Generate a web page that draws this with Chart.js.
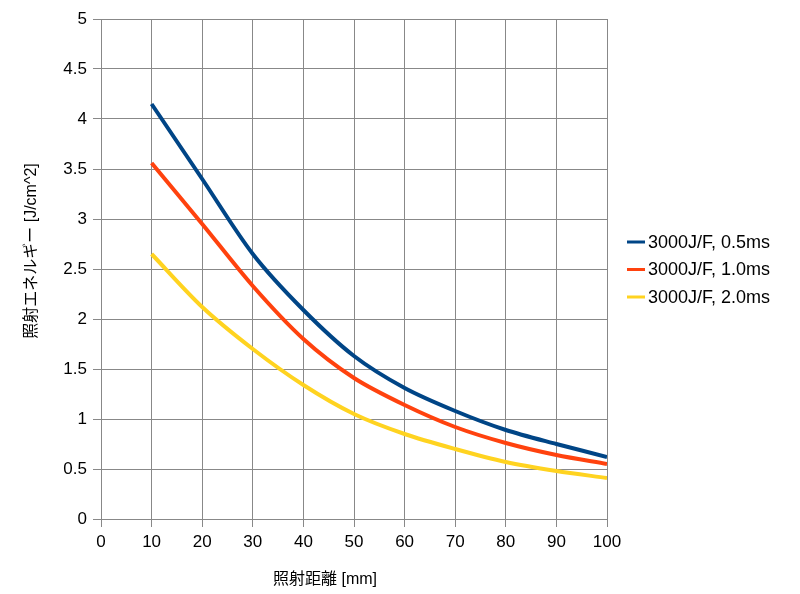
<!DOCTYPE html>
<html>
<head>
<meta charset="utf-8">
<script src="https://cdn.jsdelivr.net/npm/chart.js@4/dist/chart.umd.min.js"></script>
<style>
  html, body { margin: 0; padding: 0; background: #fff; }
  #wrap { width: 800px; height: 594px; }
</style>
</head>
<body>
<div id="wrap"><canvas id="graf"></canvas></div>
<script>
// ---------- dados ----------
const distancias = [10, 20, 30, 40, 50, 60, 70, 80, 90, 100];
const serie05 = [4.15, 3.40, 2.65, 2.09, 1.63, 1.31, 1.08, 0.89, 0.75, 0.62];
const serie10 = [3.56, 2.95, 2.33, 1.80, 1.41, 1.14, 0.92, 0.76, 0.64, 0.55];
const serie20 = [2.65, 2.12, 1.70, 1.34, 1.05, 0.85, 0.70, 0.57, 0.48, 0.41];
const nomes = ["3000J/F, 0.5ms", "3000J/F, 1.0ms", "3000J/F, 2.0ms"];
const cores = ["#004586", "#ff420e", "#ffd320"];
const tituloX = "照射距離 [mm]";
const tituloY = "照射エネルギー [J/cm^2]";

const FONTE = '"Liberation Sans", Arial, "Noto Sans CJK JP", sans-serif';
const GRADE = "#888";

function pontos(valores) {
  return distancias.map((d, i) => ({ x: d, y: valores[i] }));
}

function dataset(label, valores, cor) {
  return {
    label,
    data: pontos(valores),
    borderColor: cor,
    backgroundColor: cor,
    borderWidth: 4,
    pointRadius: 0,
    tension: 0.3,
    fill: false
  };
}

// legenda + titulos desenhados a mao
const extras = {
  id: "extras",
  afterDraw(chart) {
    const ctx = chart.ctx;
    ctx.save();
    ctx.fillStyle = "#000";

    // titulo eixo x
    ctx.font = "16px " + FONTE;
    ctx.textAlign = "center";
    ctx.textBaseline = "middle";
    ctx.fillText(tituloX, 325, 580);

    // titulo eixo y
    ctx.save();
    ctx.translate(32, 251);
    ctx.rotate(-Math.PI / 2);
    ctx.fillText(tituloY, 0, 0);
    ctx.restore();

    // legenda
    ctx.font = "18px " + FONTE;
    ctx.textAlign = "left";
    chart.data.datasets.forEach((ds, i) => {
      const y = 242 + i * 27.5;
      ctx.strokeStyle = ds.borderColor;
      ctx.lineWidth = 3;
      ctx.beginPath();
      ctx.moveTo(627, y);
      ctx.lineTo(645, y);
      ctx.stroke();
      ctx.fillStyle = "#000";
      ctx.fillText(ds.label, 648, y + 1);
    });
    ctx.restore();
  }
};

new Chart(document.getElementById("graf"), {
  type: "line",
  data: {
    datasets: [
      dataset(nomes[0], serie05, cores[0]),
      dataset(nomes[1], serie10, cores[1]),
      dataset(nomes[2], serie20, cores[2])
    ]
  },
  options: {
    responsive: true,
    maintainAspectRatio: false,
    animation: false,
    layout: { padding: { top: 19, right: 193, left: 0, bottom: 0 } },
    plugins: {
      legend: { display: false },
      tooltip: { enabled: false }
    },
    scales: {
      x: {
        type: "linear",
        min: 0,
        max: 100,
        afterFit: s => { s.height = 75; },
        ticks: {
          stepSize: 10,
          color: "#000",
          font: { family: FONTE, size: 17 },
          padding: 5,
          maxRotation: 0
        },
        grid: { color: GRADE, tickLength: 8, tickColor: GRADE },
        border: { color: GRADE }
      },
      y: {
        min: 0,
        max: 5,
        afterFit: s => { s.width = 101; },
        ticks: {
          stepSize: 0.5,
          color: "#000",
          font: { family: FONTE, size: 17 },
          padding: 6,
          callback: v => String(v)
        },
        grid: { color: GRADE, tickLength: 8, tickColor: GRADE },
        border: { color: GRADE }
      }
    }
  },
  plugins: [extras]
});
</script>
</body>
</html>
